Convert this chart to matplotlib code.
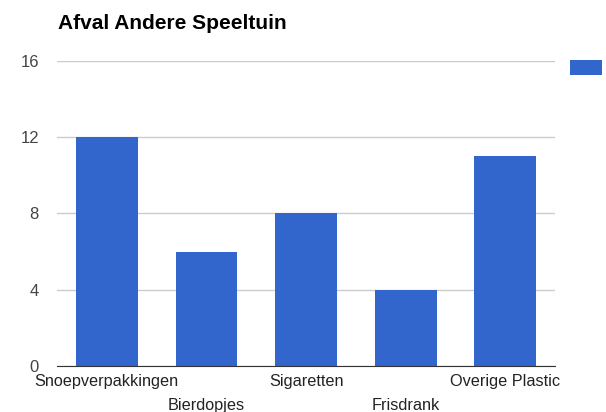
import matplotlib.pyplot as plt
from matplotlib.patches import Rectangle

plt.rcParams["font.family"] = ["Liberation Sans", "DejaVu Sans"]

categories = ["Snoepverpakkingen", "Bierdopjes", "Sigaretten", "Frisdrank", "Overige Plastic"]
values = [12, 6, 8, 4, 11]
yticks = [0, 4, 8, 12, 16]
title = "Afval Andere Speeltuin"

fig = plt.figure(figsize=(6.06, 4.12), dpi=100)
ax = fig.add_axes([0.094, 0.112, 0.822, 0.740])

ax.bar(range(len(values)), values, width=0.62, color="#3366cc", zorder=3)
ax.set_xlim(-0.5, len(values) - 0.5)
ax.set_ylim(0, 16)
ax.set_yticks(yticks)
ax.set_yticklabels([str(t) for t in yticks], fontsize=12, color="#444444")
ax.tick_params(axis="y", length=0, pad=13)

# staggered labels like the original
labels = [c if i % 2 == 0 else "\n" + c for i, c in enumerate(categories)]
ax.set_xticks(range(len(values)))
ax.set_xticklabels(labels, fontsize=11.7, color="#222222", linespacing=1.7)
ax.tick_params(axis="x", length=0, pad=6)

ax.grid(axis="y", color="#cccccc", linewidth=1, zorder=0)
for s in ["top", "right", "left"]:
    ax.spines[s].set_visible(False)
ax.spines["bottom"].set_color("#333333")
ax.spines["bottom"].set_zorder(4)

fig.text(0.095, 0.942, title, fontsize=15, fontweight="bold", ha="left", va="center")

# legend square without label
fig.add_artist(Rectangle((0.9406, 0.818), 0.0528, 0.0364, transform=fig.transFigure,
                         facecolor="#3366cc", edgecolor="none"))

fig.savefig("out.png", dpi=100)
